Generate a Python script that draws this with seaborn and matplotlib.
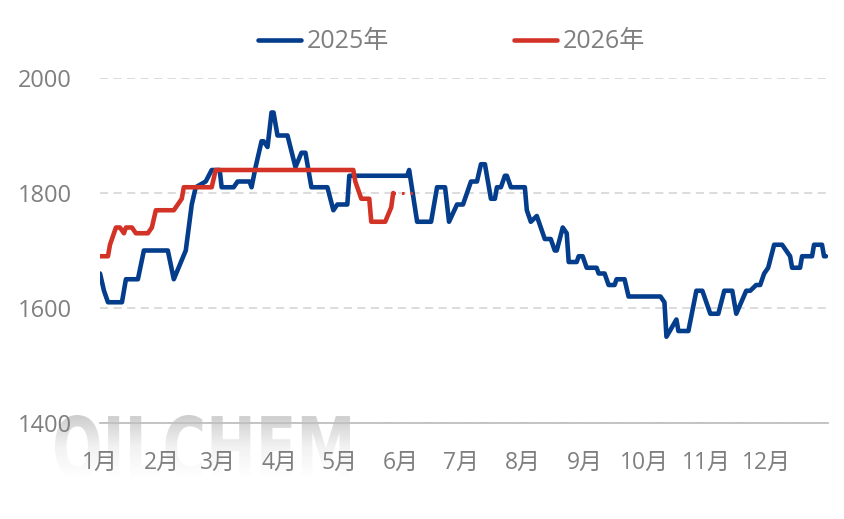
import numpy as np
import pandas as pd
import matplotlib
matplotlib.use('Agg')
import matplotlib.pyplot as plt
import seaborn as sns
from matplotlib.textpath import TextPath
from matplotlib.patches import PathPatch
from matplotlib.font_manager import FontProperties
from matplotlib.transforms import Affine2D
from matplotlib.colors import LinearSegmentedColormap

# 2025 price path (month-day, value)
dates_2025 = [
    '01-01', '01-03', '01-05', '01-12', '01-14', '01-20', '01-23',
    '02-04', '02-07', '02-13', '02-16', '02-18', '02-23', '02-26',
    '03-02', '03-03', '03-09', '03-11', '03-17', '03-18', '03-20', '03-23', '03-24', '03-26', '03-28', '03-29', '03-31',
    '04-05', '04-09', '04-12', '04-14', '04-17', '04-25', '04-28', '04-30',
    '05-05', '05-06',
    '06-04', '06-05', '06-09', '06-16', '06-19', '06-23', '06-25', '06-29',
    '07-02', '07-06', '07-09', '07-11', '07-13', '07-16', '07-18', '07-19', '07-21', '07-23', '07-24', '07-26',
    '08-02', '08-03', '08-05', '08-08', '08-09', '08-12', '08-15', '08-17', '08-18', '08-21', '08-23', '08-24', '08-28', '08-29', '08-31',
    '09-02', '09-07', '09-08', '09-11', '09-13', '09-16', '09-17', '09-21', '09-23',
    '10-09', '10-11', '10-12', '10-17', '10-18', '10-23', '10-27', '10-30',
    '11-03', '11-07', '11-10', '11-14', '11-16', '11-21', '11-23', '11-26', '11-28', '11-30',
    '12-02', '12-05', '12-09', '12-11', '12-13', '12-14', '12-18', '12-19', '12-24', '12-25', '12-29', '12-30', '12-31',
]
price_2025 = [
    1660, 1630, 1610, 1610, 1650, 1650, 1700,
    1700, 1650, 1700, 1780, 1810, 1820, 1840,
    1840, 1810, 1810, 1820, 1820, 1810, 1845, 1890, 1890, 1880, 1940, 1940, 1900,
    1900, 1845, 1870, 1870, 1810, 1810, 1770, 1780,
    1780, 1830,
    1830, 1840, 1750, 1750, 1810, 1810, 1750, 1780,
    1780, 1820, 1820, 1850, 1850, 1790, 1790, 1810, 1810, 1830, 1830, 1810,
    1810, 1770, 1750, 1760, 1750, 1720, 1720, 1700, 1700, 1740, 1730, 1680, 1680, 1690, 1690,
    1670, 1670, 1660, 1660, 1640, 1640, 1650, 1650, 1620,
    1620, 1610, 1550, 1580, 1560, 1560, 1630, 1630,
    1590, 1590, 1630, 1630, 1590, 1630, 1630, 1640, 1640, 1660,
    1670, 1710, 1710, 1700, 1690, 1670, 1670, 1690, 1690, 1710, 1710, 1690, 1690,
]

# 2026 price path so far
dates_2026 = ['01-01', '01-05', '01-06', '01-09', '01-11', '01-13', '01-14', '01-17', '01-19',
              '01-25', '01-27', '01-29', '02-07', '02-09', '02-11', '02-12', '02-26', '02-28',
              '05-08', '05-09', '05-12', '05-16', '05-17', '05-24', '05-27', '05-28']
price_2026 = [1690, 1690, 1710, 1740, 1740, 1730, 1740, 1740, 1730,
              1730, 1740, 1770, 1770, 1780, 1790, 1810, 1810, 1840,
              1840, 1820, 1790, 1790, 1750, 1750, 1775, 1800]

# dotted continuation of 2026
dates_2026_dot = ['05-28', '06-07']
price_2026_dot = [1800, 1800]

month_labels = ['1月', '2月', '3月', '4月', '5月', '6月', '7月', '8月', '9月', '10月', '11月', '12月']
y_ticks = [1400, 1600, 1800, 2000]

BLUE = '#033d8b'
RED = '#d33327'
GRAY_TXT = '#7f7f7f'


def to_doy(year, dates):
    return pd.to_datetime([f'{year}-{d}' for d in dates]).dayofyear


def main():
    df = pd.concat([
        pd.DataFrame({'doy': to_doy(2025, dates_2025), 'price': price_2025, 'year': '2025年'}),
        pd.DataFrame({'doy': to_doy(2026, dates_2026), 'price': price_2026, 'year': '2026年'}),
    ], ignore_index=True)
    dot = pd.DataFrame({'doy': to_doy(2026, dates_2026_dot), 'price': price_2026_dot})

    sns.set_style('white')
    plt.rcParams['font.family'] = ['Open Sans', 'Noto Sans CJK SC', 'DejaVu Sans']

    fig = plt.figure(figsize=(8.44, 5.19), dpi=100)

    # watermark in the background
    bg = fig.add_axes([0, 0, 1, 1], zorder=-1)
    tp = TextPath((0, 0), 'OILCHEM', size=50, prop=FontProperties(family='DejaVu Sans', weight='bold'))
    ext = tp.get_extents()
    tr = (Affine2D().translate(-ext.x0, -ext.y0)
          .scale(295 / ext.width, 63 / ext.height).translate(55, 519 - 478))
    patch = PathPatch(tr.transform_path(tp), facecolor='none', edgecolor='none')
    bg.add_patch(patch)
    cmap = LinearSegmentedColormap.from_list('wm', ['#ffffff', '#f2f2f2', '#cdcdcd'])
    im = bg.imshow(np.linspace(0, 1, 100).reshape(-1, 1), extent=[55, 350, 41, 104],
                   origin='lower', cmap=cmap, aspect='auto')
    im.set_clip_path(patch)
    bg.set_xlim(0, 844)
    bg.set_ylim(0, 519)
    bg.axis('off')

    ax = fig.add_axes([100 / 844, 1 - 423 / 519, 728 / 844, 345 / 519])
    ax.patch.set_alpha(0)

    sns.lineplot(data=df, x='doy', y='price', hue='year', palette=[BLUE, RED],
                 linewidth=3.3, estimator=None, sort=False, ax=ax,
                 solid_capstyle='round', solid_joinstyle='round')
    sns.lineplot(data=dot, x='doy', y='price', color=RED, linewidth=2.2,
                 linestyle=(0, (0.8, 2.0)), legend=False, ax=ax)

    month_start = [1, 32, 60, 91, 121, 152, 182, 213, 244, 274, 305, 335, 366]
    ax.set_xlim(1, 366)
    ax.set_ylim(1400, 2000)
    ax.set_xticks(month_start)
    ax.set_xticklabels(month_labels + [''])
    ax.set_yticks(y_ticks)
    ax.set_xlabel('')
    ax.set_ylabel('')

    ax.set_axisbelow(True)
    ax.yaxis.grid(True, color='#d9d9d9', linewidth=1.3, linestyle=(0, (4.5, 3)))
    ax.xaxis.grid(False)
    sns.despine(ax=ax, left=True)
    ax.spines['bottom'].set_color('#bfbfbf')
    ax.spines['bottom'].set_linewidth(1.3)

    ax.tick_params(axis='x', direction='in', length=6, width=1, color='#bfbfbf',
                   labelsize=16.5, labelcolor=GRAY_TXT, pad=20)
    ax.tick_params(axis='y', length=0, labelsize=17, labelcolor=GRAY_TXT, pad=20)

    handles, labels = ax.get_legend_handles_labels()
    leg = ax.legend(handles, labels, loc='center', bbox_to_anchor=(451 / 844, 1 - 42 / 519),
                    bbox_transform=fig.transFigure, ncol=2, frameon=False, fontsize=18,
                    handlelength=1.75, handletextpad=0.2, columnspacing=5.0,
                    labelcolor=GRAY_TXT)
    for h in leg.legend_handles:
        h.set_linewidth(3.3)

    fig.savefig('out.png', dpi=100)
    plt.close(fig)


if __name__ == '__main__':
    main()
